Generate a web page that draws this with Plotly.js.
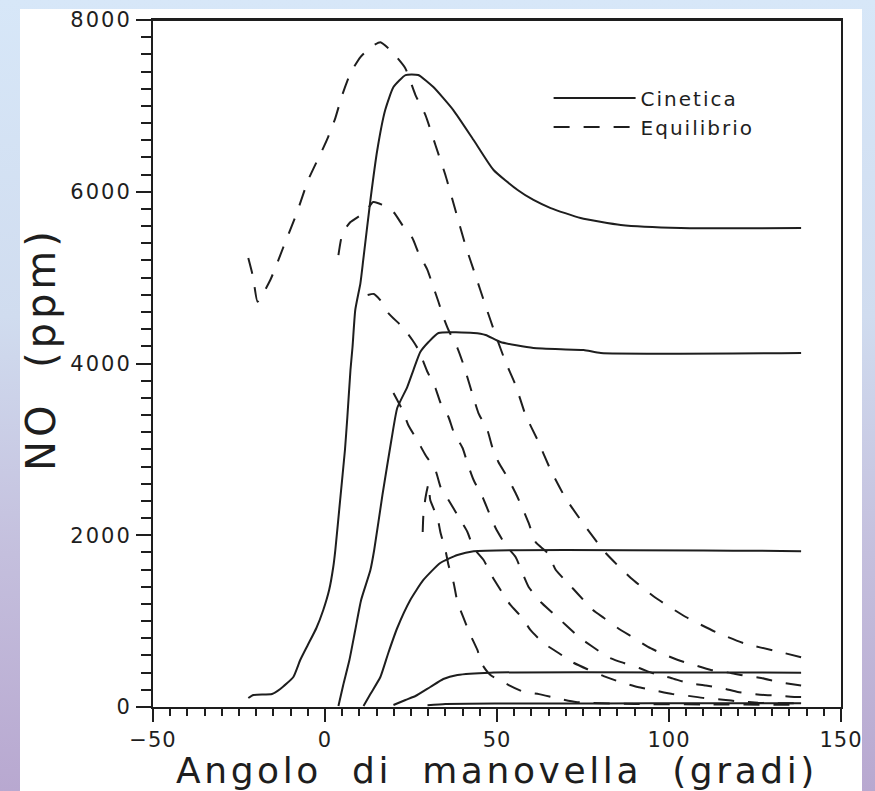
<!DOCTYPE html>
<html>
<head>
<meta charset="utf-8">
<script src="https://cdn.plot.ly/plotly-3.0.1.min.js"></script>
<style>
  html, body { margin: 0; padding: 0; }
  body {
    width: 875px; height: 791px; overflow: hidden; position: relative;
    background: linear-gradient(to bottom, #d7e7f8 0%, #d0dcef 40%, #c4bfdd 70%, #b8a8d0 100%);
  }
  #panel { position: absolute; left: 20px; top: 9px; width: 842px; height: 782px; background: #fff; }
  #chart { position: absolute; left: 0; top: 0; width: 875px; height: 791px; }
  .xtitle { letter-spacing: 3.6px; }
  .annotation-text { letter-spacing: 4px; }
  .xtick text { letter-spacing: 1px; }
  .ytick text { letter-spacing: 2px; }
  .legendtext { letter-spacing: 2px; }
</style>
</head>
<body>
<div id="panel"></div>
<div id="chart"></div>
<script>
// NO concentration (ppm) vs crank angle (deg) for five burned-gas elements.
// Cinetica = kinetically controlled NO, Equilibrio = equilibrium NO.

const k1x = [-22.3,-20.8,-15.4,-13.0,-9.2,-7.2,-5.0,-2.5,-0.5,1.2,2.4,3.0,4.4,5.8,6.5,7.4,8.0,8.8,10.3,11.1,13.2,15.2,17.5,19.9,23.4,27.1,31.5,37.3,43.2,49.0,56.0,60.6,65.6,74.3,86.0,103.4,138.4];
const k1y = [105,140,151,210,349,547,722,920,1130,1362,1630,1828,2410,2993,3377,3924,4192,4623,4937,5200,5903,6486,6951,7219,7359,7359,7219,6951,6602,6253,6020,5904,5810,5694,5612,5577,5577];

const k2x = [3.9,5.3,7.1,8.8,10.5,13.2,14.3,16.7,19.3,21.0,23.9,25.7,27.7,30.1,33.0,43.2,46.7,51.0,60.6,75.2,80.2,138.4];
const k2y = [12,256,547,897,1246,1595,1828,2469,3109,3482,3726,3924,4134,4250,4355,4355,4332,4250,4180,4157,4122,4122];

const k3x = [11.2,13.2,16.1,18.4,21.0,24.8,28.6,33.5,38.5,43.2,138.4];
const k3y = [12,151,349,629,920,1246,1479,1677,1770,1815,1815];

const k4x = [19.9,23.4,26.3,30.6,34.4,38.5,48.1,138.4];
const k4y = [23,82,128,233,326,373,400,400];

const k5x = [29.8,35,50,80,110,138.4];
const k5y = [20,35,40,40,45,45];

const e1x = [-22.3,-20.9,-19.6,-15.9,-12.2,-8.1,-4.9,-0.8,0.9,3.0,5.0,7.4,10.3,13.5,16.1,19.0,23.3,26.3,29.2,32.1,35.0,37.9,40.8,43.7,46.6,49.6,52.5,55.4,58.3,61.8,65.6,69.9,75.8,81.6,88.9,96.2,104.9,113.6,122.4,131.1,138.4];
const e1y = [5228,5007,4720,4972,5345,5764,6136,6485,6637,6858,7126,7382,7569,7690,7740,7650,7441,7126,6893,6544,6195,5787,5380,5030,4681,4332,4017,3749,3400,3109,2760,2434,2096,1793,1502,1269,1048,873,734,652,580];

const e2x = [3.9,5.1,7.4,11.7,14.0,16.5,19.9,22.5,25.4,27.2,29.8,31.3,33.0,34.4,35.9,38.5,40.3,41.8,43.2,44.6,47.2,48.7,50.4,53.0,55.4,57.4,59.2,61.2,64.7,67.1,70.6,73.8,77.9,81.1,85.1,89.8,93.9,97.6,102.6,107.3,112.2,118.0,122.4,126.8,131.7,138.4];
const e2y = [5263,5519,5647,5764,5880,5850,5764,5612,5461,5286,5088,4914,4716,4541,4390,4180,3982,3784,3598,3423,3225,3016,2853,2678,2492,2317,2143,1921,1793,1595,1444,1304,1129,1036,920,803,699,629,547,489,431,396,361,338,291,250];

const e3x = [12.4,14.2,16.0,18.4,22.8,25.4,27.2,29.8,32.1,33.6,35.9,37.4,40.0,41.4,43.2,45.8,47.6,49.6,52.5,55.4,57.4,59.2,62.7,66.2,70.0,73.8,77.9,82.2,86.9,91.3,96.2,100.6,105.5,110.7,115.9,120.0,125.8,130.2,135.4,138.4];
const e3y = [4797,4810,4740,4588,4413,4273,4157,3901,3714,3540,3377,3202,3016,2841,2643,2445,2271,2084,1886,1747,1560,1397,1223,1095,955,815,699,582,512,454,380,338,279,250,215,175,145,135,120,115];

const e4x = [19.9,22.5,24.2,27.1,29.2,32.1,33.6,35.9,38.5,41.4,43.2,46.1,48.7,51.6,53.9,57.4,59.7,63.5,67.9,72.0,76.3,81.0,85.9,90.9,95.3,101.1,105.5,110.2,115.7,120.4,125.9,130.5,138.4];
const e4y = [3656,3458,3284,3086,2934,2760,2562,2410,2236,2038,1851,1712,1514,1327,1188,1036,897,745,629,520,440,360,290,233,198,150,130,105,85,65,50,45,45];

const e5x = [28.4,28.6,29.2,30.1,30.6,32.7,33.6,35.0,35.9,37.4,38.5,40.3,42.0,44.3,45.8,48.1,53.4,57.8,62.2,67.1,72.9,77.9,90,110,138.4];
const e5y = [2038,2236,2434,2600,2410,2201,2026,1828,1653,1444,1223,1036,862,664,489,373,256,175,150,105,58,47,35,30,25];

const xTickVals = [-50, 0, 50, 100, 150];
const yTickVals = [0, 2000, 4000, 6000, 8000];

const ink = '#1e1e1e';
const font = 'DejaVu Sans, Liberation Sans, sans-serif';

const kinetic = [[k1x, k1y], [k2x, k2y], [k3x, k3y], [k4x, k4y], [k5x, k5y]];
const equilibrium = [[e1x, e1y], [e2x, e2y], [e3x, e3y], [e4x, e4y], [e5x, e5y]];

const traces = [];
kinetic.forEach(([x, y], i) => traces.push({
  x, y, type: 'scatter', mode: 'lines', name: 'Cinetica',
  legendgroup: 'cin', showlegend: i === 0,
  line: { color: ink, width: 2, shape: 'spline', smoothing: 0.5 }
}));
equilibrium.forEach(([x, y], i) => traces.push({
  x, y, type: 'scatter', mode: 'lines', name: 'Equilibrio',
  legendgroup: 'eq', showlegend: i === 0,
  line: { color: ink, width: 2, dash: '16px,14px', shape: 'spline', smoothing: 0.5 }
}));

const layout = {
  width: 875, height: 791,
  margin: { l: 153, r: 34, t: 20, b: 84 },
  paper_bgcolor: 'rgba(0,0,0,0)', plot_bgcolor: '#ffffff',
  font: { family: font, color: ink },
  showlegend: true,
  legend: {
    x: 0.575, y: 0.915, xanchor: 'left', yanchor: 'top',
    bgcolor: 'rgba(0,0,0,0)', font: { size: 20, family: font, color: ink },
    itemwidth: 82, tracegroupgap: 0
  },
  xaxis: {
    range: [-50, 150], tickvals: xTickVals, ticktext: xTickVals.map(v => v < 0 ? '\u2212' + Math.abs(v) : String(v)),
    ticks: 'outside', ticklen: 13, tickwidth: 2, tickcolor: ink, ticklabeloverflow: 'allow',
    minor: { dtick: 5, ticks: 'outside', ticklen: 7, tickwidth: 2, tickcolor: ink, showgrid: false },
    showline: true, linewidth: 2, linecolor: ink, mirror: true,
    showgrid: false, zeroline: false,
    tickfont: { size: 21, family: font, color: ink },
    title: { text: 'Angolo\u00a0\u00a0di\u00a0\u00a0manovella\u00a0\u00a0(gradi)', font: { size: 36, family: font, color: ink }, standoff: 10 }
  },
  yaxis: {
    range: [0, 8000], tickvals: yTickVals,
    ticks: 'outside', ticklen: 15, tickwidth: 2, tickcolor: ink, ticklabeloverflow: 'allow',
    minor: { dtick: 200, ticks: 'outside', ticklen: 10, tickwidth: 2, tickcolor: ink, showgrid: false },
    showline: true, linewidth: 2, linecolor: ink, mirror: true,
    showgrid: false, zeroline: false,
    tickfont: { size: 21, family: font, color: ink }
  },
  // frame line along the top of the plotting area
  shapes: [{
    type: 'line', xref: 'paper', yref: 'paper', x0: 0, x1: 1, y0: 1, y1: 1,
    line: { color: ink, width: 2 }
  }],
  // y-axis title, placed left of the tick labels
  annotations: [{
    text: 'NO\u00a0\u00a0(ppm)', textangle: -90,
    xref: 'paper', yref: 'paper', x: -0.163, y: 0.521,
    xanchor: 'center', yanchor: 'middle', showarrow: false,
    font: { size: 40, family: font, color: ink }
  }]
};

Plotly.newPlot('chart', traces, layout, { displayModeBar: false, staticPlot: true });
</script>
</body>
</html>
